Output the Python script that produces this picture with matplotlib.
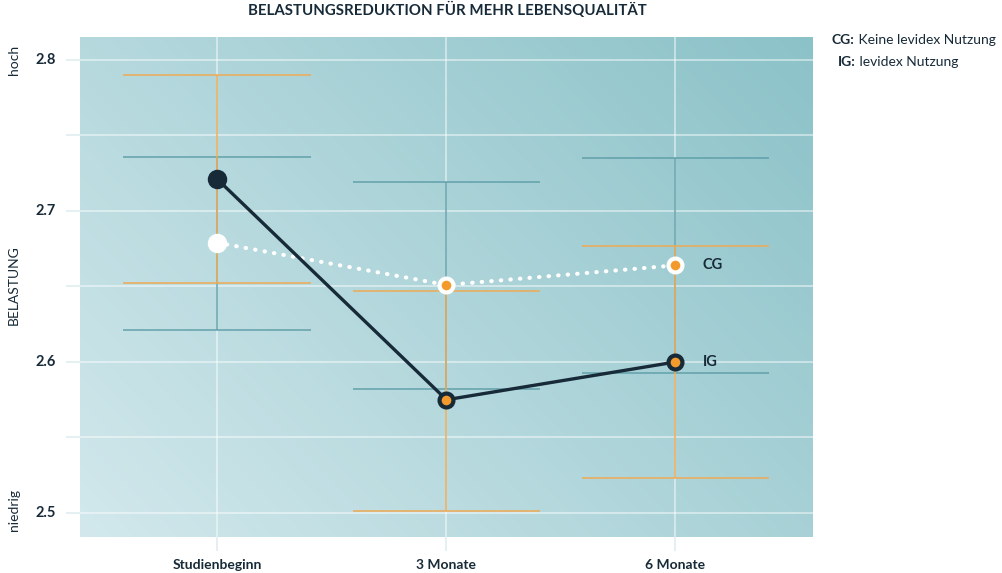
import matplotlib.pyplot as plt
import numpy as np
from matplotlib.ticker import MultipleLocator

plt.rcParams["font.family"] = ["Lato", "DejaVu Sans"]

CATEGORIES = ["Studienbeginn", "3 Monate", "6 Monate"]
IG_MEAN = [2.721, 2.575, 2.600]
IG_LOW = [2.652, 2.501, 2.523]
IG_HIGH = [2.790, 2.647, 2.677]
CG_MEAN = [2.679, 2.651, 2.664]
CG_LOW = [2.621, 2.582, 2.593]
CG_HIGH = [2.736, 2.719, 2.735]

DARK = "#172a38"
ORANGE = "#f39a2c"
ERR_ORANGE = "#eeaa55"
ERR_TEAL = "#5c9ca6"
CAP_HALF = 0.41

fig = plt.figure(figsize=(10.02, 5.73), dpi=100)
ax = fig.add_axes([0.0798, 0.0628, 0.7315, 0.8726])
x = np.arange(len(CATEGORIES))

# diagonal background gradient
gx, gy = np.meshgrid(np.linspace(0, 1, 200), np.linspace(0, 1, 200))
t = (gx * 0.6 + gy * 0.4)
c0 = np.array([0xd2, 0xe8, 0xec]) / 255
c1 = np.array([0x8b, 0xc2, 0xc8]) / 255
img = c0 + (c1 - c0) * t[..., None]
ax.imshow(img, extent=[0, 1, 0, 1], transform=ax.transAxes, origin="lower",
          aspect="auto", zorder=0)

ax.set_xlim(-0.6, 2.6)
ax.set_ylim(2.4841, 2.8152)

ax.yaxis.set_major_locator(MultipleLocator(0.1))
ax.yaxis.set_minor_locator(MultipleLocator(0.05))
ax.set_xticks(x)
ax.set_xticklabels(CATEGORIES, fontweight="bold", fontsize=10, color=DARK)
ax.set_yticklabels([])
for yv in [2.5, 2.6, 2.7, 2.8]:
    ax.text(-0.705, yv, f"{yv:.1f}", ha="right", va="center", fontsize=10.5,
            fontweight="bold", color=DARK)
ax.grid(True, which="both", color="white", alpha=0.55, linewidth=1.2, zorder=1)
ax.set_axisbelow(True)
ax.tick_params(axis="both", which="both", length=10, width=1.3, color="#e2eff1")
ax.tick_params(axis="x", pad=6)
for s in ax.spines.values():
    s.set_visible(False)

# error bars: teal for CG, orange for IG
ax.vlines(x, CG_LOW, CG_HIGH, color=ERR_TEAL, linewidth=1.2, alpha=0.85, zorder=2)
ax.hlines(CG_LOW + CG_HIGH, list(x - CAP_HALF) * 2, list(x + CAP_HALF) * 2,
          color=ERR_TEAL, linewidth=1.2, alpha=0.85, zorder=2)
ax.vlines(x, IG_LOW, IG_HIGH, color=ERR_ORANGE, linewidth=1.3, alpha=0.85, zorder=3)
ax.hlines(IG_LOW + IG_HIGH, list(x - CAP_HALF) * 2, list(x + CAP_HALF) * 2,
          color=ERR_ORANGE, linewidth=1.3, alpha=0.85, zorder=3)

# CG: white dotted line
ax.plot(x, CG_MEAN, color="white", linewidth=3, linestyle=(0, (0.1, 2.2)),
        dash_capstyle="round", zorder=4)
ax.plot(x[:1], CG_MEAN[:1], "o", color="white", markersize=13, zorder=6)
ax.plot(x[1:], CG_MEAN[1:], "o", markerfacecolor=ORANGE, markeredgecolor="white",
        markersize=10, markeredgewidth=3, zorder=6)

# IG: dark solid line
ax.plot(x, IG_MEAN, color=DARK, linewidth=2.4, zorder=5)
ax.plot(x[:1], IG_MEAN[:1], "o", color=DARK, markersize=13, zorder=6)
ax.plot(x[1:], IG_MEAN[1:], "o", markerfacecolor=ORANGE, markeredgecolor=DARK,
        markersize=10, markeredgewidth=3, zorder=6)

ax.text(x[-1] + 0.12, CG_MEAN[-1], "CG", ha="left", va="center", fontsize=10.5,
        fontweight="bold", color=DARK, zorder=7)
ax.text(x[-1] + 0.12, IG_MEAN[-1], "IG", ha="left", va="center", fontsize=10.5,
        fontweight="bold", color=DARK, zorder=7)

fig.text(0.446, 0.982, "BELASTUNGSREDUKTION FÜR MEHR LEBENSQUALITÄT", ha="center",
         va="center", fontsize=10.8, fontweight="bold", color=DARK)

# y-axis descriptors
fig.text(0.008, 0.895, "hoch", rotation=90, ha="left", va="center", fontsize=10, color=DARK)
fig.text(0.008, 0.503, "BELASTUNG", rotation=90, ha="left", va="center", fontsize=10, color=DARK)
fig.text(0.008, 0.11, "niedrig", rotation=90, ha="left", va="center", fontsize=10, color=DARK)

# legend text
t1 = fig.text(0.830, 0.930, "CG:", ha="left", va="center", fontsize=10,
              fontweight="bold", color=DARK)
ax.annotate(" Keine levidex Nutzung", xy=(1, 0), xycoords=t1, ha="left", va="bottom",
            fontsize=10, color=DARK, annotation_clip=False)
t2 = fig.text(0.836, 0.892, "IG:", ha="left", va="center", fontsize=10,
              fontweight="bold", color=DARK)
ax.annotate(" levidex Nutzung", xy=(1, 0), xycoords=t2, ha="left", va="bottom",
            fontsize=10, color=DARK, annotation_clip=False)

fig.savefig("out.png", dpi=100)
